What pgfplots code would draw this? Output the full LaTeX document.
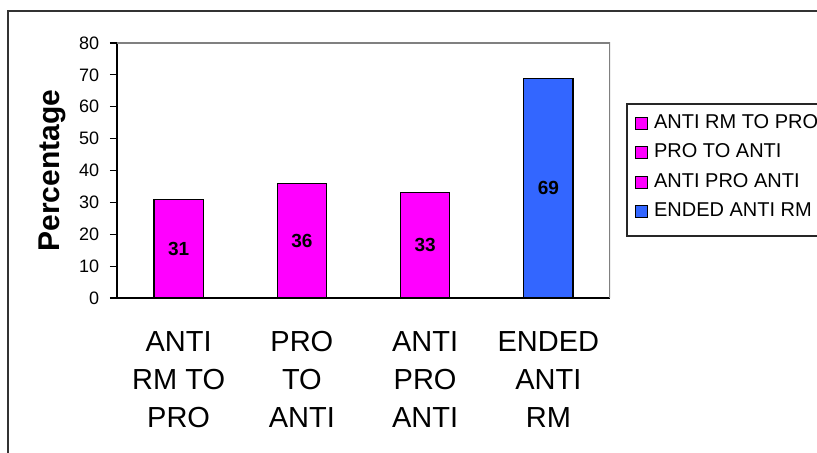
\documentclass[border=0pt]{standalone}
\usepackage{pgfplots}
\pgfplotsset{compat=1.18}
\usepackage{fontspec}
\setmainfont{Liberation Sans}
\definecolor{barmag}{RGB}{255,0,255}
\definecolor{barblue}{RGB}{51,102,255}
\begin{document}
\begin{tikzpicture}
% page = 817 x 453 px at 0.75pt per px, y counted from bottom
\useasboundingbox (0,0) rectangle (612.75pt,339.75pt);
\clip (0,0) rectangle (612.75pt,339.75pt);
% chart area frame (runs past the page on right and bottom)
\draw[line width=1.2pt, black!80] (6pt,-15pt) -- (6pt,331.5pt) -- (630pt,331.5pt);
% legend frame
\draw[line width=0.8pt, black!85] (630pt,261.75pt) -- (470.25pt,261.75pt) -- (470.25pt,162.75pt) -- (630pt,162.75pt);
\begin{axis}[
    at={(87.75pt,116.25pt)}, anchor=south west,
    scale only axis,
    width=369.75pt, height=191.25pt,
    ybar, bar width=0.4, bar shift=0pt,
    xmin=-0.5, xmax=3.5,
    ymin=0, ymax=80,
    ytick={0,10,...,80},
    xtick={0,1,2,3},
    xticklabels={{ANTI\\RM TO\\PRO},{PRO\\TO\\ANTI},{ANTI\\PRO\\ANTI},{ENDED\\ANTI\\RM}},
    axis lines*=left,
    axis line style={black, line width=0.8pt},
    x tick style={draw=none},
    y tick style={black, line width=0.8pt},
    tick align=outside,
    major tick length=5.25pt,
    /pgf/number format/assume math mode=true,
    yticklabel style={font=\fontsize{13.5}{15}\selectfont, inner sep=0pt, xshift=-8pt},
    xticklabel style={font=\fontsize{21.75}{28.3}\selectfont, align=center, inner sep=0pt, anchor=north, yshift=-19.75pt},
    ylabel={\textbf{Percentage}},
    ylabel style={font=\fontsize{22.5}{26}\selectfont, at={(axis description cs:-0.132,0.5)}, anchor=center, inner sep=0pt},
    legend style={draw=none, fill=none, inner sep=0pt, column sep=4.5pt, row sep=8.1pt,
        at={(axis description cs:1.0507,0.7235)}, anchor=north west,
        font=\fontsize{15}{18}\selectfont,
        nodes={inner sep=0pt, text height=11pt, text depth=3pt}},
    legend cell align=left,
    legend image code/.code={\draw[#1, draw=black, line width=0.6pt] (0pt,-4.5pt) rectangle (9pt,4.5pt);},
  ]
  \addplot[fill=barmag, draw=black, line width=0.8pt] coordinates {(0,31)};
  \addplot[fill=barmag, draw=black, line width=0.8pt] coordinates {(1,36)};
  \addplot[fill=barmag, draw=black, line width=0.8pt] coordinates {(2,33)};
  \addplot[fill=barblue, draw=black, line width=0.8pt] coordinates {(3,69)};
  % value labels, placed at half the bar height
  \addplot[forget plot, draw=none, fill=none, nodes near coords, point meta=explicit,
      every node near coord/.append style={anchor=center, font=\fontsize{14.25}{16}\selectfont\bfseries, black}]
      coordinates {(0,15.5) [31] (1,18) [36] (2,16.5) [33] (3,34.5) [69]};
  \draw[gray, line width=0.8pt] (rel axis cs:0,1) -- (rel axis cs:1,1) -- (rel axis cs:1,0);
  \legend{ANTI RM TO PRO, PRO TO ANTI, ANTI PRO ANTI, ENDED ANTI RM}
\end{axis}
\end{tikzpicture}
\end{document}
